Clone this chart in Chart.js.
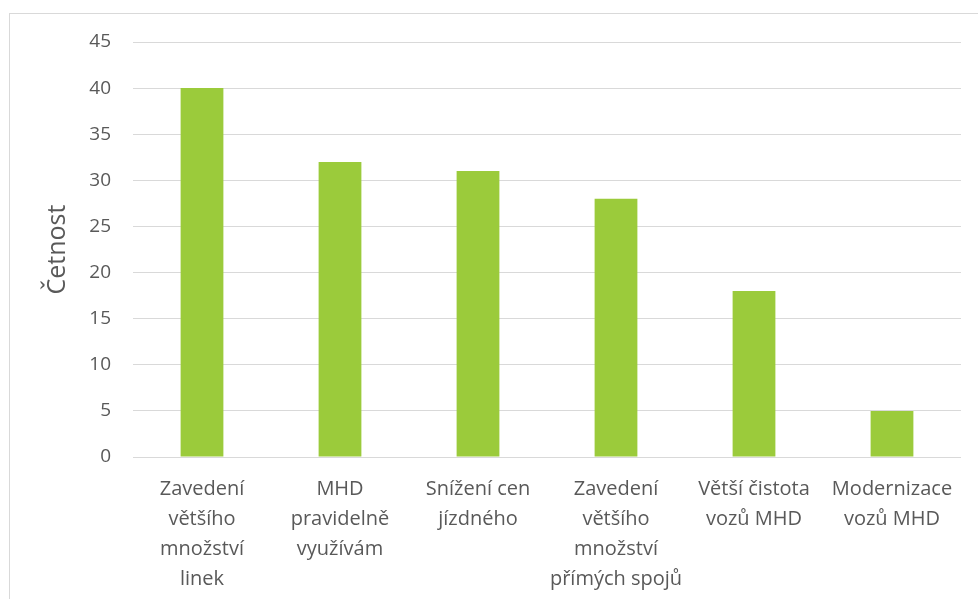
<!DOCTYPE html>
<html><head><meta charset="utf-8">
<script src="https://cdn.jsdelivr.net/npm/chart.js@4"></script>
<style>
html,body{margin:0;padding:0;background:#fff;overflow:hidden}
#wrap{position:relative;width:978px;height:599px}
#frame{position:absolute;left:9px;top:13px;width:1000px;height:700px;border-left:1px solid #d9d9d9;border-top:1px solid #d9d9d9;box-sizing:border-box}
canvas{position:absolute;left:0;top:0}
</style></head>
<body><div id="wrap"><div id="frame"></div><canvas id="c" width="978" height="599"></canvas></div>
<script>
const categories = [
  ["Zavedení","většího","množství","linek"],
  ["MHD","pravidelně","využívám"],
  ["Snížení cen","jízdného"],
  ["Zavedení","většího","množství","přímých spojů"],
  ["Větší čistota","vozů MHD"],
  ["Modernizace","vozů MHD"]
];
const values = [40, 32, 31, 28, 18, 5];
const yTicks = [0,5,10,15,20,25,30,35,40,45];
const yTitle = "Četnost";

const FONT = "'Open Sans', sans-serif";
new Chart(document.getElementById('c'), {
  type: 'bar',
  data: { labels: categories, datasets: [{ data: values, backgroundColor: '#9BCB3B', categoryPercentage: 1, barPercentage: 0.31 }] },
  options: {
    responsive: false, animation: false,
    layout: { padding: { left: 39, top: 42, right: 17, bottom: 0 } },
    plugins: { legend: { display: false }, tooltip: { enabled: false } },
    scales: {
      x: {
        grid: { display: false, drawTicks: false },
        border: { display: false },
        ticks: { color: '#595959', font: { family: FONT, size: 20, lineHeight: 1.5 }, padding: 17, maxRotation: 0, autoSkip: false },
        afterFit: s => { s.height = 142; }
      },
      y: {
        min: 0, max: 45,
        afterBuildTicks: s => { s.ticks = yTicks.map(v => ({ value: v })); },
        grid: { color: '#d9d9d9', lineWidth: 1, drawTicks: false },
        border: { display: false },
        ticks: { color: '#595959', font: { family: FONT, size: 19 }, padding: 22 },
        title: { display: true, text: yTitle, color: '#595959', font: { family: FONT, size: 25 }, padding: { top: 4, bottom: 4 } },
        afterFit: s => { s.width = 94; }
      }
    }
  }
});
</script></body></html>
